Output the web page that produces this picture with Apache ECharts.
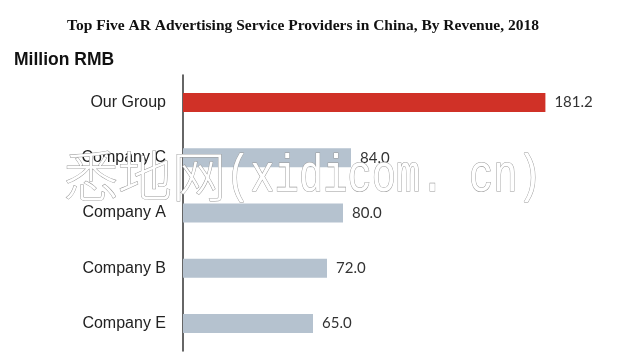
<!DOCTYPE html>
<html>
<head>
<meta charset="utf-8">
<script src="https://cdn.jsdelivr.net/npm/echarts@6/dist/echarts.min.js"></script>
<style>
html,body{margin:0;padding:0;background:#fff;}
#main{width:622px;height:362px;}
</style>
</head>
<body>
<div id="main"></div>
<script>
const titleText = 'Top Five AR Advertising Service Providers in China, By Revenue, 2018';
const unitText = 'Million RMB';
const categories = ['Our Group', 'Company C', 'Company A', 'Company B', 'Company E'];
const revenue = [181.2, 84.0, 80.0, 72.0, 65.0];
const watermarkCJK = '悉地网';
const watermarkLatin = '(xidicom. cn)';

const chart = echarts.init(document.getElementById('main'), null, {renderer: 'canvas'});
chart.setOption({
  backgroundColor: '#ffffff',
  animation: false,
  title: {
    text: titleText,
    left: 298,
    textAlign: 'center',
    top: 13,
    textStyle: {fontFamily: 'Liberation Serif', fontWeight: 'bold', fontSize: 15.5, color: '#111'}
  },
  grid: {left: 183, top: 75, height: 276, width: 400},
  xAxis: {
    type: 'value', min: 0, max: 200, show: false
  },
  yAxis: {
    type: 'category',
    data: categories,
    inverse: true,
    axisLine: {show: true, lineStyle: {color: '#333', width: 1.5}},
    axisTick: {show: false},
    axisLabel: {margin: 17, fontFamily: 'Liberation Sans', fontSize: 16, color: '#222'}
  },
  series: [{
    type: 'bar',
    data: revenue,
    barWidth: 19,
    itemStyle: {color: p => p.dataIndex === 0 ? '#d03127' : '#b5c2cf'},
    label: {
      show: true, position: 'right', distance: 9,
      formatter: p => p.value.toFixed(1),
      fontFamily: 'Lato', fontSize: 15, color: '#333'
    }
  }],
  graphic: [
    {type: 'text', left: 14, top: 51, z: 10,
     style: {text: unitText, fontFamily: 'Liberation Sans', fontWeight: 'bold', fontSize: 17.5, fill: '#111'}},
    {type: 'text', x: 64, y: 203, z: 100,
     style: {text: watermarkCJK, fontFamily: 'Noto Sans CJK SC', fontWeight: 300, fontSize: 54, textVerticalAlign: 'bottom',
             fill: '#ffffff', stroke: '#999999', lineWidth: 1}},
    {type: 'text', x: 226, y: 203, z: 100, scaleX: 0.88, scaleY: 1.12,
     style: {text: watermarkLatin, fontFamily: 'Liberation Mono', fontSize: 46, textVerticalAlign: 'bottom',
             fill: '#ffffff', stroke: '#999999', lineWidth: 1}}
  ]
});
</script>
</body>
</html>
